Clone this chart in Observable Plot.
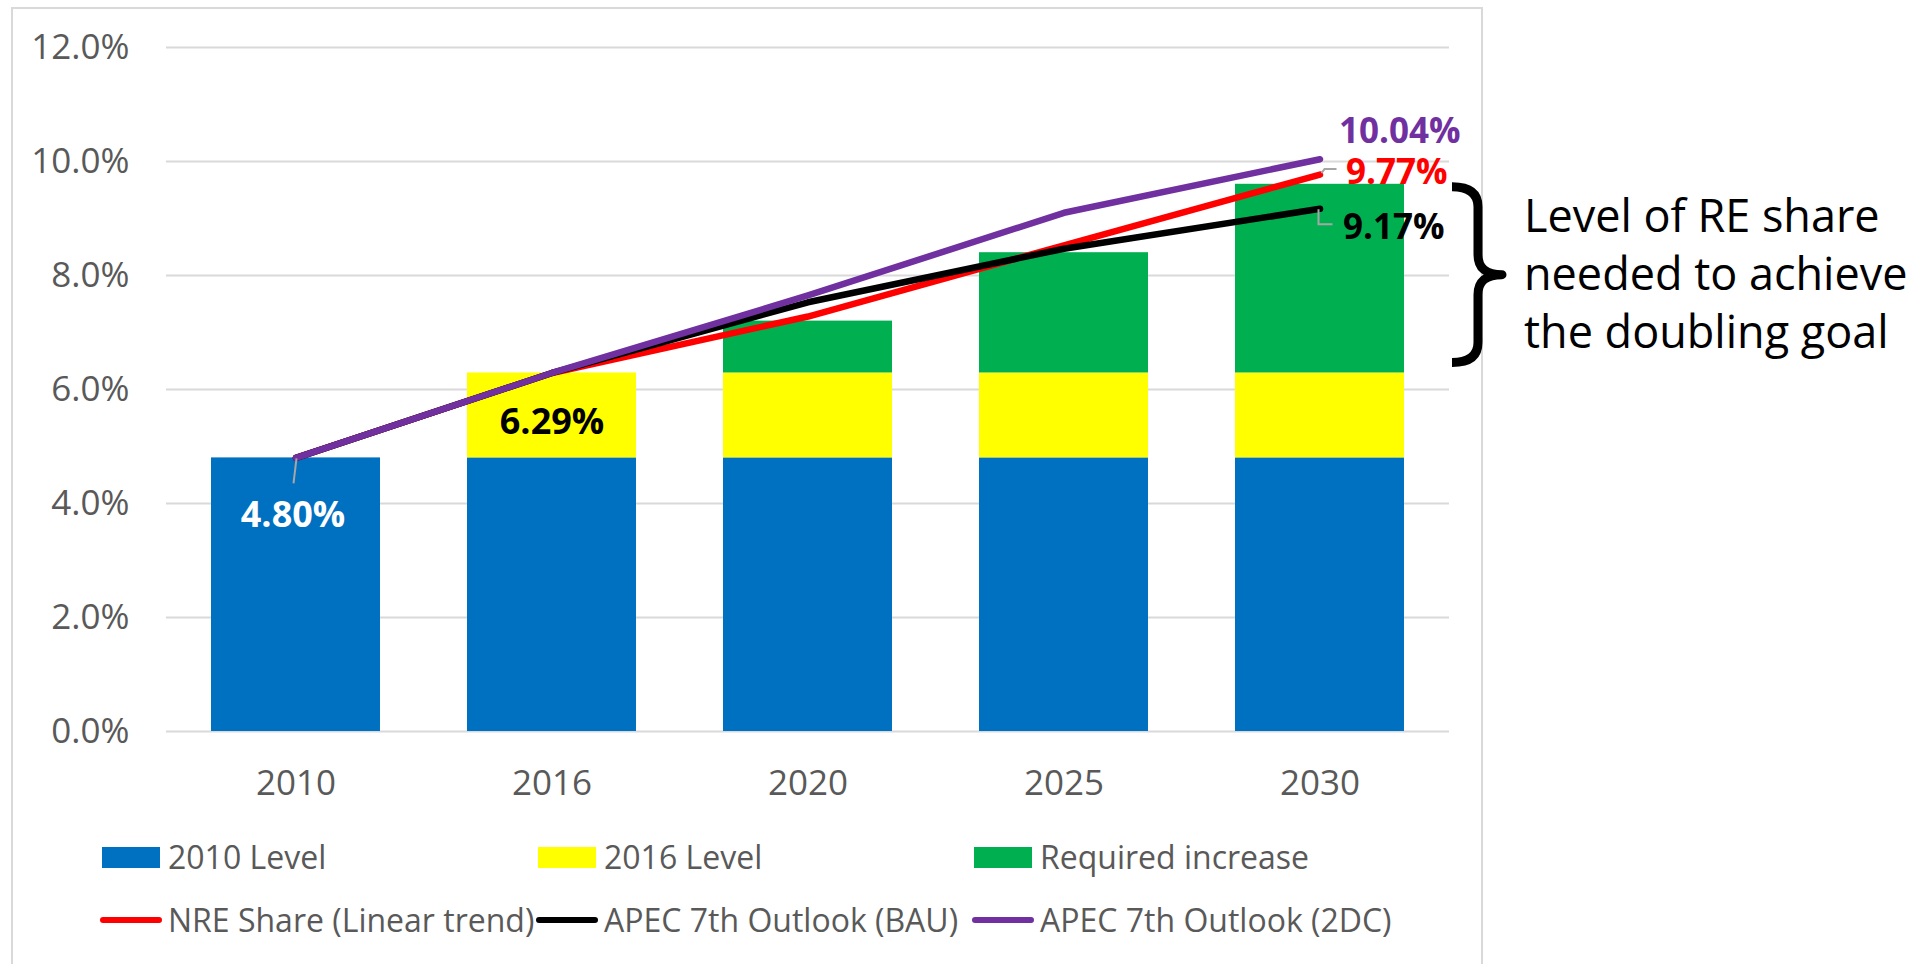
<!DOCTYPE html>
<html><head><meta charset="utf-8">
<script src="https://cdn.jsdelivr.net/npm/d3@7"></script>
<script src="https://cdn.jsdelivr.net/npm/@observablehq/plot@0.6"></script>
<style>
html,body{margin:0;padding:0;background:#fff;overflow:hidden;width:1920px;height:964px;}
#wrap{position:relative;width:1920px;height:964px;font-family:"Open Sans",sans-serif;}
#border{position:absolute;left:11px;top:7px;width:1472px;height:1000px;border:2px solid #d9d9d9;box-sizing:border-box;}
#chart{position:absolute;left:0;top:0;}
.note{position:absolute;left:1524px;top:186px;font-size:45px;line-height:58px;color:#000;white-space:nowrap;}
.leg{position:absolute;font-size:32px;color:#595959;white-space:nowrap;line-height:40px;height:40px;}
.sw{position:absolute;}
</style></head><body>
<div id="wrap">
  <div id="border"></div>
  <div id="chart"></div>
  <div class="note">Level of RE share<br>needed to achieve<br>the doubling goal</div>
  <div id="legend"></div>
</div>
<script>
// ---- data ----
const years = ["2010", "2016", "2020", "2025", "2030"];
const level2010 = [4.80, 4.80, 4.80, 4.80, 4.80];
const level2016 = [null, 6.29, 6.29, 6.29, 6.29];
const requiredLevel = [null, null, 7.20, 8.40, 9.60];
const nreTrend = [4.80, 6.29, 7.28, 8.53, 9.77];
const apecBAU = [4.80, 6.29, 7.53, 8.47, 9.17];
const apec2DC = [4.80, 6.29, 7.65, 9.10, 10.04];
const yTicks = [0, 2, 4, 6, 8, 10, 12];
const barSeries = ["2010 Level", "2016 Level", "Required increase"];
const lineSeries = ["NRE Share (Linear trend)", "APEC 7th Outlook (BAU)", "APEC 7th Outlook (2DC)"];
const barColors = ["#0070C0", "#FFFF00", "#00B050"];
const lineColors = ["#FF0000", "#000000", "#7030A0"];

// ---- derived tables ----
const bars = [];
years.forEach((yr, i) => {
  bars.push({year: yr, series: barSeries[0], y1: 0, y2: level2010[i]});
  if (level2016[i] != null) bars.push({year: yr, series: barSeries[1], y1: level2010[i], y2: level2016[i]});
  if (requiredLevel[i] != null) bars.push({year: yr, series: barSeries[2], y1: level2016[i], y2: requiredLevel[i]});
});
const lineTable = (vals, name) => years.map((yr, i) => ({year: yr, value: vals[i], series: name}));
const nreRows = lineTable(nreTrend, lineSeries[0]);
const bauRows = lineTable(apecBAU, lineSeries[1]);
const dcRows = lineTable(apec2DC, lineSeries[2]);
const last = years.length - 1;

const pct = v => v.toFixed(2) + "%";

// custom overlays: leader lines and brace, positioned through the scales
function overlays(index, scales, values, dimensions) {
  const xs = scales.x;
  const bw = typeof xs.bandwidth === "function" ? xs.bandwidth() : (xs.bandwidth || 0);
  const cx = yr => xs(yr) + bw / 2;
  const ys = scales.y;
  const g = d3.create("svg:g");
  const p0 = [cx(years[0]), ys(level2010[0])];
  const pR = [cx(years[last]), ys(nreTrend[last])];
  const pB = [cx(years[last]), ys(apecBAU[last])];
  const leaders = [
    `M${p0[0] + 1},${p0[1] + 1}L${p0[0] - 2},${p0[1] + 26}`,
    `M${pR[0] + 2},${pR[1] - 1}L${pR[0] + 5},${pR[1] - 5}L${pR[0] + 17},${pR[1] - 5}`,
    `M${pB[0] - 1},${pB[1] + 1}L${pB[0] - 1},${pB[1] + 16}L${pB[0] + 13},${pB[1] + 16}`
  ];
  for (const d of leaders) g.append("path").attr("d", d).attr("fill", "none").attr("stroke", "#a6a6a6").attr("stroke-width", 2);
  // brace spanning the required increase of the final year
  const x0 = dimensions.width - dimensions.marginRight + 3;
  const xsp = x0 + 26, xt = x0 + 50;
  const yT = ys(requiredLevel[last]) + 3, yB = ys(level2016[last]) - 10, yM = (yT + yB) / 2;
  const r = 20;
  const d = `M${x0},${yT}Q${xsp},${yT} ${xsp},${yT + r}L${xsp},${yM - r}Q${xsp},${yM} ${xt},${yM}` +
            `Q${xsp},${yM} ${xsp},${yM + r}L${xsp},${yB - r}Q${xsp},${yB} ${x0},${yB}`;
  g.append("path").attr("d", d).attr("fill", "none").attr("stroke", "#000").attr("stroke-width", 9).attr("stroke-linejoin", "round");
  return g.node();
}

const chart = Plot.plot({
  width: 1920,
  height: 840,
  marginLeft: 166,
  marginRight: 471,
  marginTop: 47,
  marginBottom: 109,
  style: {fontFamily: "'Open Sans', sans-serif", fontSize: "35px", color: "#595959", background: "transparent", overflow: "visible"},
  x: {type: "band", domain: years, paddingInner: 0.34, paddingOuter: 0.17, label: null},
  y: {domain: [0, 12], label: null},
  marks: [
    Plot.ruleY(yTicks, {stroke: "#d9d9d9", strokeWidth: 2}),
    Plot.barY(bars, {x: "year", y1: "y1", y2: "y2", fill: "series"}),
    Plot.line(nreRows, {x: "year", y: "value", stroke: lineColors[0], strokeWidth: 6.5, strokeLinejoin: "round", strokeLinecap: "round"}),
    Plot.line(bauRows, {x: "year", y: "value", stroke: lineColors[1], strokeWidth: 6.5, strokeLinejoin: "round", strokeLinecap: "round"}),
    Plot.line(dcRows, {x: "year", y: "value", stroke: lineColors[2], strokeWidth: 6.5, strokeLinejoin: "round", strokeLinecap: "round"}),
    overlays,
    Plot.text([dcRows[0]], {x: "year", y: "value", text: d => pct(d.value), fill: "#fff", fontWeight: "bold", fontSize: 36, dy: 58, dx: -3}),
    Plot.text([{year: years[1], value: level2016[1], mid: (level2010[1] + level2016[1]) / 2}], {x: "year", y: "mid", text: d => pct(d.value), fill: "#000", fontWeight: "bold", fontSize: 36, dy: 7}),
    Plot.text([dcRows[last]], {x: "year", y: "value", text: d => pct(d.value), fill: lineColors[2], fontWeight: "bold", fontSize: 35, textAnchor: "start", dx: 19, dy: -27}),
    Plot.text([nreRows[last]], {x: "year", y: "value", text: d => pct(d.value), fill: lineColors[0], fontWeight: "bold", fontSize: 35, textAnchor: "start", dx: 26, dy: -2}),
    Plot.text([bauRows[last]], {x: "year", y: "value", text: d => pct(d.value), fill: lineColors[1], fontWeight: "bold", fontSize: 35, textAnchor: "start", dx: 23, dy: 19}),
    Plot.axisY({ticks: yTicks, tickFormat: d => d.toFixed(1) + "%", tickSize: 0, tickPadding: 37, label: null}),
    Plot.axisX({tickSize: 0, tickPadding: 39, label: null})
  ],
  color: {domain: barSeries, range: barColors}
});
document.getElementById("chart").appendChild(chart);

// ---- legend (HTML, below the plot area) ----
const legend = document.getElementById("legend");
const colX = [102, 538, 974];
const textX = [168, 604, 1040];
barSeries.forEach((name, i) => {
  const sw = document.createElement("div");
  sw.className = "sw";
  Object.assign(sw.style, {left: colX[i] + "px", top: "847px", width: "58px", height: "21px", background: barColors[i]});
  legend.appendChild(sw);
  const t = document.createElement("div");
  t.className = "leg";
  Object.assign(t.style, {left: textX[i] + "px", top: (857 - 20) + "px"});
  t.textContent = name;
  legend.appendChild(t);
});
lineSeries.forEach((name, i) => {
  const sw = document.createElement("div");
  sw.className = "sw";
  Object.assign(sw.style, {left: (colX[i] - 2) + "px", top: "917px", width: "62px", height: "6px", background: lineColors[i], borderRadius: "3px"});
  legend.appendChild(sw);
  const t = document.createElement("div");
  t.className = "leg";
  Object.assign(t.style, {left: textX[i] + "px", top: (920 - 20) + "px"});
  t.textContent = name;
  legend.appendChild(t);
});
</script>
</body></html>
